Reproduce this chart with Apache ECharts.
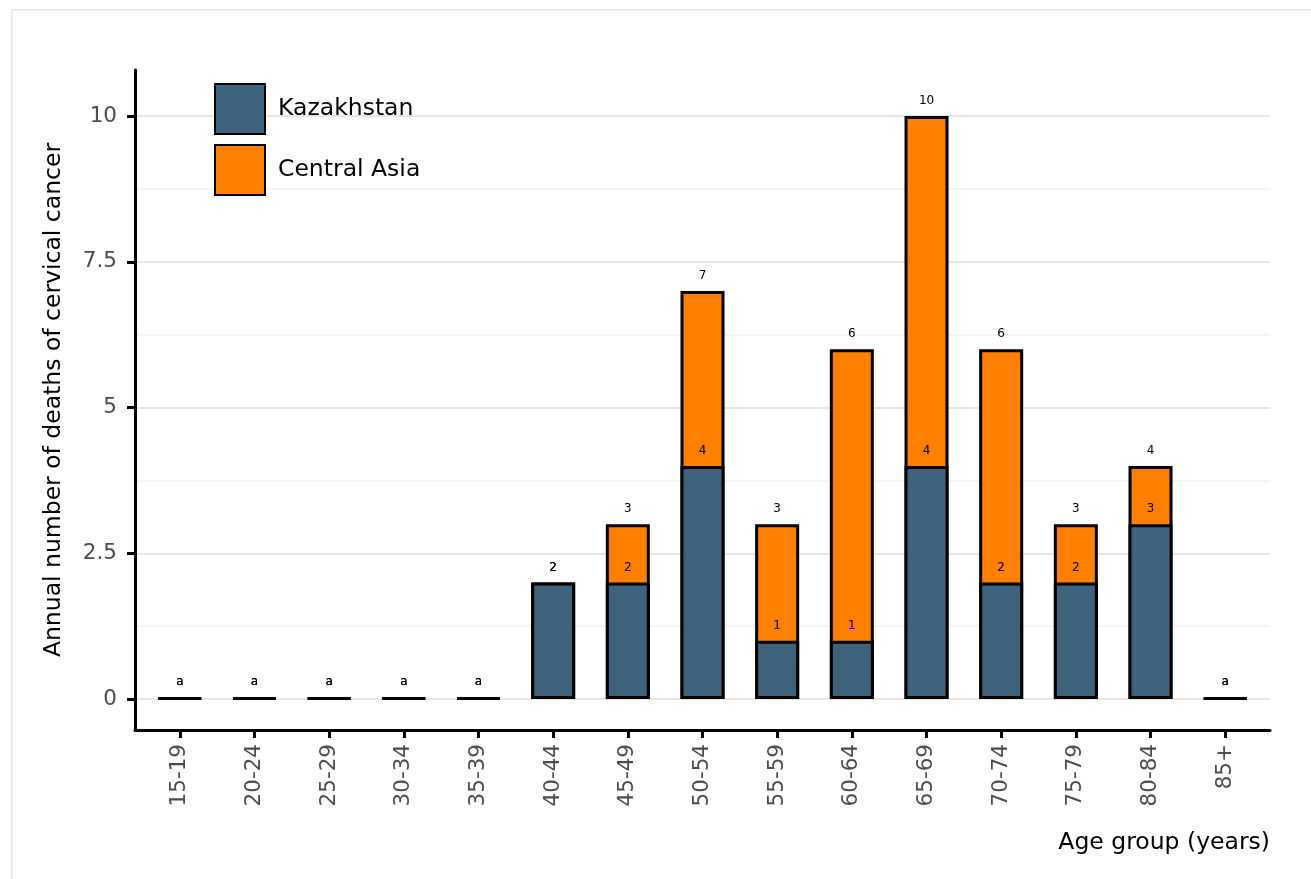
<!DOCTYPE html>
<html>
<head>
<meta charset="utf-8">
<script src="https://cdn.jsdelivr.net/npm/echarts@6/dist/echarts.min.js"></script>
<style>
html,body{margin:0;padding:0;background:#fff;}
#chart{width:1311px;height:879px;}
</style>
</head>
<body>
<div id="chart"></div>
<script>
const categories = ['15-19','20-24','25-29','30-34','35-39','40-44','45-49','50-54','55-59','60-64','65-69','70-74','75-79','80-84','85+'];
const kazakhstan = [0,0,0,0,0,2,2,4,1,1,4,2,2,3,0];
const centralAsia = [0,0,0,0,0,2,3,7,3,6,10,6,3,4,0];
const yTicks = [0, 2.5, 5, 7.5, 10];
const yMinor = [1.25, 3.75, 6.25, 8.75];

const FONT = 'DejaVu Sans';
const chart = echarts.init(document.getElementById('chart'), null, {renderer: 'canvas'});

const idx = categories.map((c, i) => i);
const lbl = p => (p.value[1] === 0 ? 'a' : String(p.value[1]));

const labelCfg = {
  show: true, position: 'top', distance: 9,
  fontFamily: FONT, fontSize: 12, color: '#000',
  formatter: lbl
};

chart.setOption({
  animation: false,
  textStyle: {fontFamily: FONT},
  graphic: [{
    type: 'rect', left: 9.25, top: 7.25, z: -10,
    shape: {width: 1305, height: 880},
    style: {fill: 'none', stroke: '#e3e3e3', lineWidth: 1.5}
  }],
  title: {
    text: 'Age group (years)', right: 36, top: 826,
    textStyle: {fontFamily: FONT, fontSize: 23.5, fontWeight: 'normal', color: '#000'}
  },
  legend: {
    data: ['Kazakhstan', 'Central Asia'],
    orient: 'vertical', left: 209, top: 78,
    itemWidth: 50, itemHeight: 50, itemGap: 9,
    icon: 'rect',
    textStyle: {fontFamily: FONT, fontSize: 23.5, color: '#000', padding: [0, 0, 0, 8]}
  },
  grid: {left: 135, right: 41, top: 70, bottom: 149, containLabel: false},
  xAxis: {
    type: 'value', min: -0.6, max: 14.6,
    splitLine: {show: false},
    axisLine: {show: true, onZero: false, lineStyle: {color: '#000', width: 3}},
    axisTick: {show: true, customValues: idx, length: 8, lineStyle: {color: '#000', width: 3}},
    axisLabel: {
      customValues: idx, rotate: 90, margin: 14,
      fontFamily: FONT, fontSize: 21.5, color: '#4d4d4d',
      formatter: v => categories[Math.round(v)]
    }
  },
  yAxis: {
    type: 'value', min: -0.53, max: 10.79,
    name: 'Annual number of deaths of cervical cancer',
    nameLocation: 'middle', nameGap: 69,
    nameTextStyle: {fontFamily: FONT, fontSize: 23.5, color: '#000'},
    splitLine: {show: false},
    axisLine: {show: true, onZero: false, lineStyle: {color: '#000', width: 3}},
    axisTick: {show: true, customValues: yTicks, length: 8, lineStyle: {color: '#000', width: 3}},
    axisLabel: {
      customValues: yTicks, margin: 18,
      fontFamily: FONT, fontSize: 21.5, color: '#4d4d4d',
      formatter: v => String(v)
    }
  },
  series: [
    {
      type: 'line', data: [], z: 0, silent: true,
      markLine: {
        z: 0, silent: true, symbol: 'none', label: {show: false}, animation: false,
        data: yTicks.map(v => ({yAxis: v, lineStyle: {color: '#e6e6e6', width: 2, type: 'solid'}}))
          .concat(yMinor.map(v => ({yAxis: v, lineStyle: {color: '#f4f4f4', width: 2, type: 'solid'}})))
      }
    },
    {
      name: 'Central Asia', type: 'bar', barWidth: 44, barGap: '-100%', z: 2, barMinHeight: 1,
      itemStyle: {color: '#ff7f00', borderColor: '#000', borderWidth: 3},
      label: labelCfg,
      data: centralAsia.map((v, i) => [i, v])
    },
    {
      name: 'Kazakhstan', type: 'bar', barWidth: 44, barGap: '-100%', z: 3, barMinHeight: 1,
      itemStyle: {color: '#3f627c', borderColor: '#000', borderWidth: 3},
      label: labelCfg,
      data: kazakhstan.map((v, i) => [i, v])
    }
  ]
});
</script>
</body>
</html>
